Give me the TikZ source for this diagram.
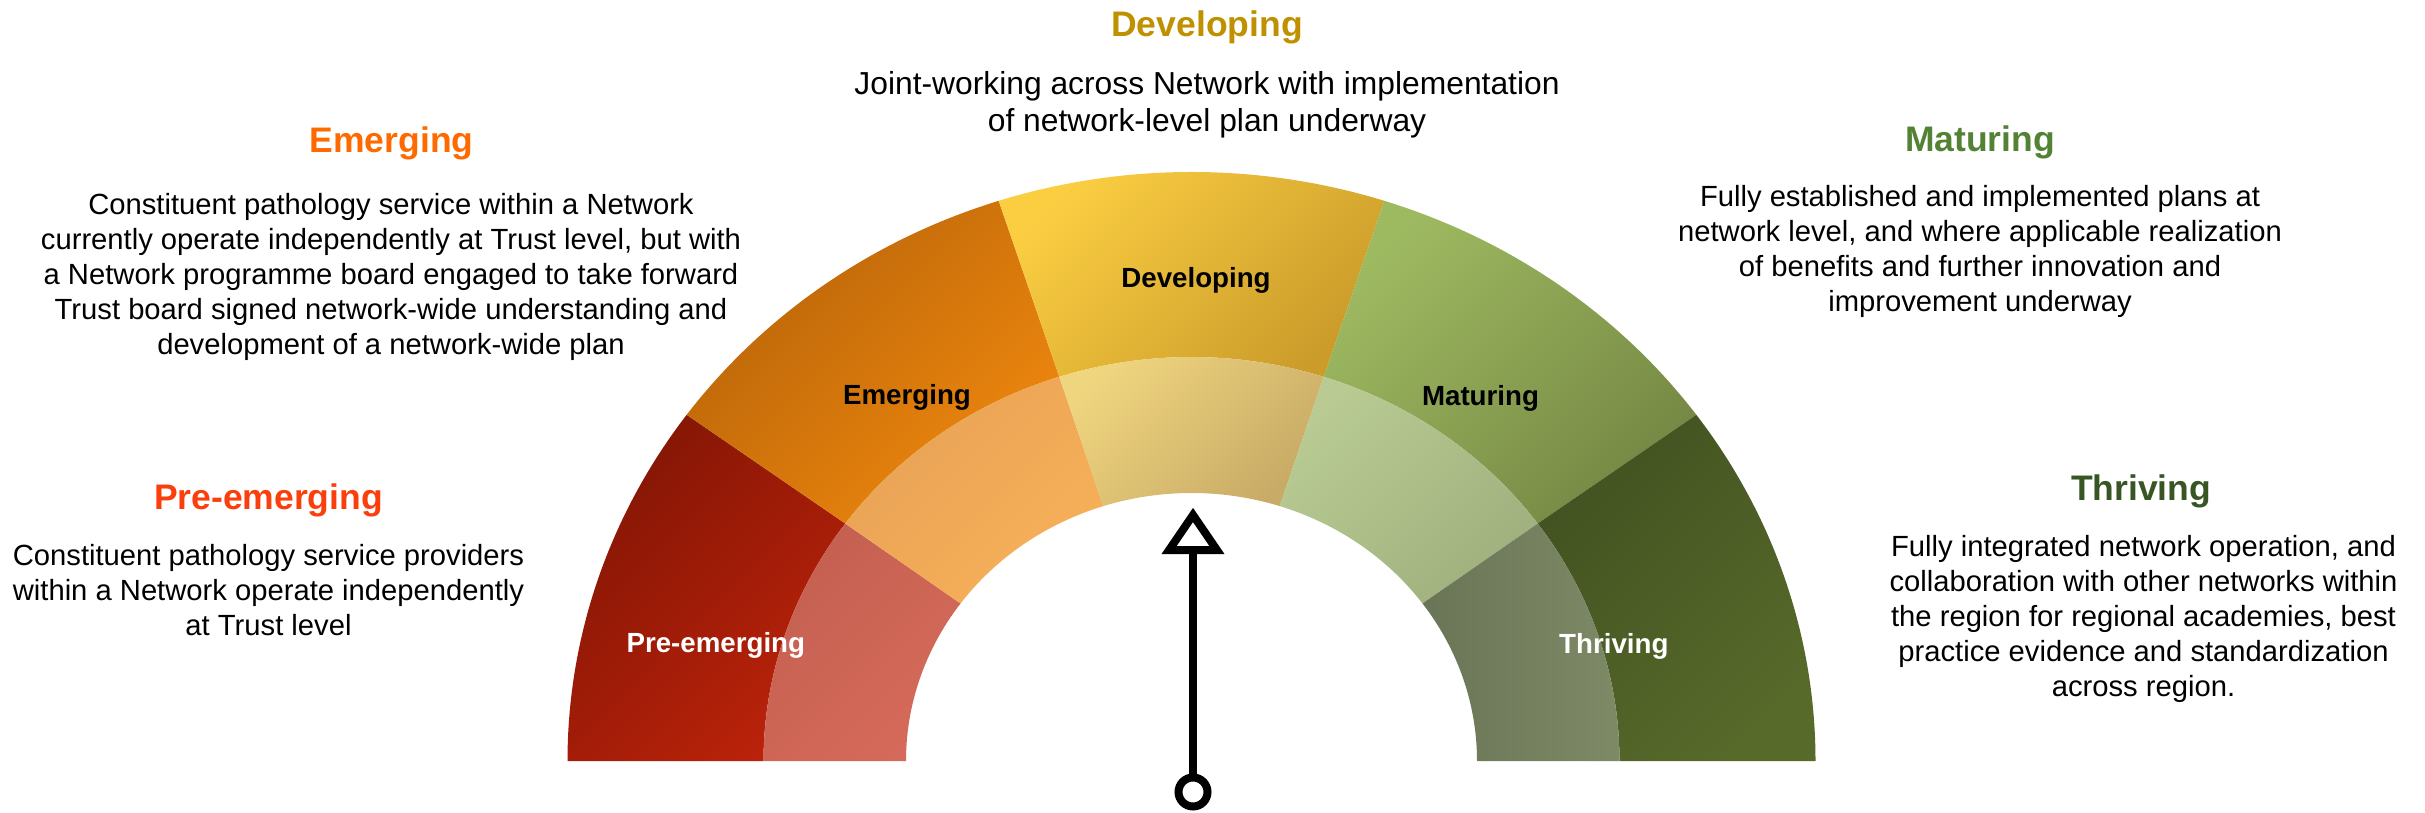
\documentclass[tikz,border=0pt]{standalone}
\usepackage{fontspec}
\setmainfont{Liberation Sans}
% centred block of lines whose reference point is the first baseline
\newcommand\blocklines[1]{\begin{tabular}[t]{@{}c@{}}#1\end{tabular}}
% annular sector of the flattened gauge: #1 start angle, #2 end angle,
% #3/#4 outer x/y radius, #5/#6 inner x/y radius
\newcommand\gaugeband[6]{(#1:#3pt and #4pt) arc[start angle=#1,end angle=#2,x radius=#3pt,y radius=#4pt]
  -- (#2:#5pt and #6pt) arc[start angle=#2,end angle=#1,x radius=#5pt,y radius=#6pt] -- cycle}
\definecolor{preT}{RGB}{250,62,12}
\definecolor{emeT}{RGB}{255,106,0}
\definecolor{devT}{RGB}{191,144,0}
\definecolor{matT}{RGB}{84,130,53}
\definecolor{thrT}{RGB}{55,86,35}
\begin{document}
\begin{tikzpicture}[x=1pt,y=1pt,
  stagetitle/.style={anchor=base, inner sep=0pt, font=\fontsize{35.5}{42}\selectfont\bfseries},
  stagedesc/.style={anchor=base, inner sep=0pt, font=\fontsize{29.2}{35}\selectfont},
  gaugelabel/.style={anchor=base, inner sep=0pt, font=\fontsize{27.7}{33}\selectfont\bfseries},
  band/.style={shading angle=45}]
\useasboundingbox (0,0) rectangle (2425,812);

% ---- gauge: five stages, outer ring and pale inner ring ----
\begin{scope}[shift={(1191.5,51)}]
  % Pre-emerging
  \shade[top color={rgb,255:red,132;green,22;blue,5}, bottom color={rgb,255:red,186;green,34;blue,10}, band]
    \gaugeband{180}{144}{624}{589}{428}{404};
  \shade[top color={rgb,255:red,196;green,96;blue,80}, bottom color={rgb,255:red,214;green,106;blue,90}, band]
    \gaugeband{180}{144}{428}{404}{285.5}{268};
  % Emerging
  \shade[top color={rgb,255:red,184;green,100;blue,9}, bottom color={rgb,255:red,238;green,135;blue,14}, band]
    \gaugeband{144}{108}{624}{589}{428}{404};
  \shade[top color={rgb,255:red,232;green,162;blue,86}, bottom color={rgb,255:red,247;green,176;blue,88}, band]
    \gaugeband{144}{108}{428}{404}{285.5}{268};
  % Developing
  \shade[top color={rgb,255:red,251;green,206;blue,66}, bottom color={rgb,255:red,203;green,156;blue,42}, band]
    \gaugeband{108}{72}{624}{589}{428}{404};
  \shade[top color={rgb,255:red,240;green,213;blue,127}, bottom color={rgb,255:red,200;green,171;blue,102}, band]
    \gaugeband{108}{72}{428}{404}{285.5}{268};
  % Maturing
  \shade[top color={rgb,255:red,158;green,186;blue,97}, bottom color={rgb,255:red,118;green,136;blue,68}, band]
    \gaugeband{72}{36}{624}{589}{428}{404};
  \shade[top color={rgb,255:red,185;green,203;blue,147}, bottom color={rgb,255:red,160;green,176;blue,126}, band]
    \gaugeband{72}{36}{428}{404}{285.5}{268};
  % Thriving
  \shade[top color={rgb,255:red,66;green,82;blue,33}, bottom color={rgb,255:red,87;green,106;blue,42}, band]
    \gaugeband{36}{0}{624}{589}{428}{404};
  \shade[left color={rgb,255:red,106;green,117;blue,87}, right color={rgb,255:red,126;green,137;blue,102}]
    \gaugeband{36}{0}{428}{404}{285.5}{268};
\end{scope}

% ---- labels on the gauge ----
\node[gaugelabel, text=white] (gPre) at (715.8,159.3) {Pre-emerging};
\node[gaugelabel] (gEme) at (907,407) {Emerging};
\node[gaugelabel] (gDev) at (1196,524) {Developing};
\node[gaugelabel] (gMat) at (1480.5,406) {Maturing};
\node[gaugelabel, text=white] (gThr) at (1613.8,159) {Thriving};

% ---- needle ----
\node[circle, draw, line width=8pt, minimum size=29pt, inner sep=0pt, fill=white] (pivot) at (1193,20) {};
\coordinate (tipbase) at (1193,262);
\draw[line width=8.3pt] (pivot.north) -- (tipbase);
\draw[line width=8pt, line join=miter] (1169.1,262) -- (1193,297) -- (1216.9,262) -- cycle;

% ---- stage descriptions ----
\node[stagetitle, text=devT] (tDev) at (1207,775) {Developing};
\node[stagedesc, font=\fontsize{31.8}{37}\selectfont] (dDev) at (1207,717)
  {\blocklines{Joint-working across Network with implementation\\of network-level plan underway}};

\node[stagetitle, text=emeT] (tEme) at (391.6,659) {Emerging};
\node[stagedesc] (dEme) at (391,597)
  {\blocklines{Constituent pathology service within a Network\\currently operate independently at Trust level, but with\\a Network programme board engaged to take forward\\Trust board signed network-wide understanding and\\development of a network-wide plan}};

\node[stagetitle, text=preT] (tPre) at (268.5,302) {Pre-emerging};
\node[stagedesc] (dPre) at (268.5,247)
  {\blocklines{Constituent pathology service providers\\within a Network operate independently\\at Trust level}};

\node[stagetitle, text=matT] (tMat) at (1980,660) {Maturing};
\node[stagedesc] (dMat) at (1980,605)
  {\blocklines{Fully established and implemented plans at\\network level, and where applicable realization\\of benefits and further innovation and\\improvement underway}};

\node[stagetitle, text=thrT] (tThr) at (2141,312) {Thriving};
\node[stagedesc] (dThr) at (2143.5,256)
  {\blocklines{Fully integrated network operation, and\\collaboration with other networks within\\the region for regional academies, best\\practice evidence and standardization\\across region.}};
\end{tikzpicture}
\end{document}
